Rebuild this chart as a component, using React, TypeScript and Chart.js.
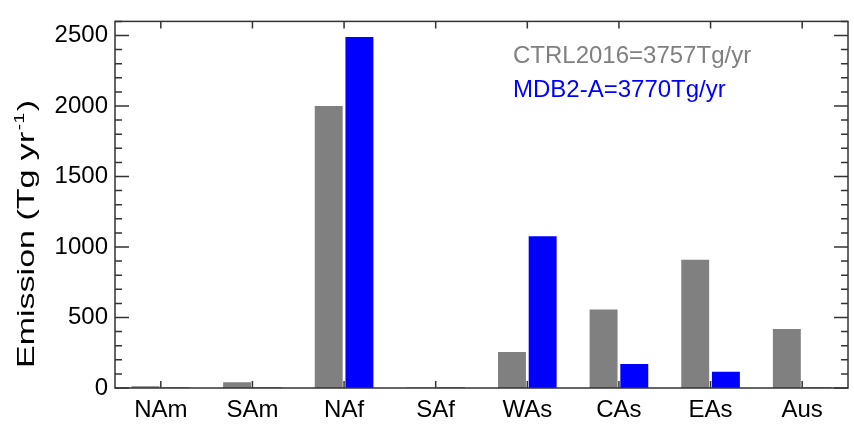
import React, { useEffect, useRef } from "react";
import { Chart, registerables } from "chart.js";

Chart.register(...registerables);

// ---- data ----
const regions = ["NAm", "SAm", "NAf", "SAf", "WAs", "CAs", "EAs", "Aus"];
const ctrl2016 = [12, 40, 2000, 3, 255, 557, 910, 419];
const mdb2a = [4, 3, 2490, 3, 1076, 171, 115, 3];
const yTickValues = [0, 500, 1000, 1500, 2000, 2500];
const yMax = 2600;
const yMinorStep = 100;
const legendLines = [
  { text: "CTRL2016=3757Tg/yr", color: "#808080" },
  { text: "MDB2-A=3770Tg/yr", color: "#0000ff" },
];
const yTitleMain = "Emission (Tg yr";
const yTitleSup = "-1";
const yTitleEnd = ")";

const FONT = '"Liberation Sans", Arial, Helvetica, sans-serif';
const AXIS_COLOR = "#333333";

const framePlugin = {
  id: "idlFrame",
  afterDraw(chart: any) {
    const { ctx, chartArea: a, scales } = chart;
    const y = scales.y;
    const x = scales.x;
    ctx.save();
    ctx.strokeStyle = AXIS_COLOR;
    ctx.lineWidth = 1.5;
    ctx.strokeRect(a.left, a.top, a.right - a.left, a.bottom - a.top);
    ctx.beginPath();
    for (let v = 0; v <= yMax; v += yMinorStep) {
      const py = y.getPixelForValue(v);
      const len = v % 500 === 0 ? 14 : 7;
      ctx.moveTo(a.left, py);
      ctx.lineTo(a.left + len, py);
      ctx.moveTo(a.right, py);
      ctx.lineTo(a.right - len, py);
    }
    regions.forEach((_, i) => {
      const px = x.getPixelForValue(i);
      ctx.moveTo(px, a.bottom);
      ctx.lineTo(px, a.bottom - 7);
      ctx.moveTo(px, a.top);
      ctx.lineTo(px, a.top + 7);
    });
    ctx.stroke();

    // legend text
    ctx.font = `24px ${FONT}`;
    ctx.textAlign = "left";
    ctx.textBaseline = "alphabetic";
    legendLines.forEach((l, i) => {
      ctx.fillStyle = l.color;
      ctx.fillText(l.text, 513, 63 + i * 34);
    });

    // y-axis title (rotated, stretched along the text direction)
    ctx.translate(34, 368);
    ctx.rotate(-Math.PI / 2);
    ctx.fillStyle = "#000";
    ctx.font = `24px ${FONT}`;
    let w = ctx.measureText(yTitleMain).width;
    ctx.font = `14px ${FONT}`;
    const wSup = ctx.measureText(yTitleSup).width;
    ctx.font = `24px ${FONT}`;
    const wEnd = ctx.measureText(yTitleEnd).width;
    const total = w + 1 + wSup + 1 + wEnd;
    ctx.scale(268 / total, 1);
    ctx.fillText(yTitleMain, 0, 0);
    ctx.font = `14px ${FONT}`;
    ctx.fillText(yTitleSup, w + 1, -10);
    ctx.font = `24px ${FONT}`;
    ctx.fillText(yTitleEnd, w + 2 + wSup, 0);
    ctx.restore();
  },
};

export default function App() {
  const ref = useRef<HTMLCanvasElement | null>(null);
  useEffect(() => {
    if (!ref.current) return;
    const chart = new Chart(ref.current, {
      type: "bar",
      data: {
        labels: regions,
        datasets: [
          {
            label: "CTRL2016",
            data: ctrl2016,
            backgroundColor: "#808080",
            categoryPercentage: 0.67,
            barPercentage: 0.91,
          },
          {
            label: "MDB2-A",
            data: mdb2a,
            backgroundColor: "#0000ff",
            categoryPercentage: 0.67,
            barPercentage: 0.91,
          },
        ],
      },
      options: {
        animation: false,
        responsive: false,
        layout: { padding: { top: 10, right: 6, left: 0, bottom: 0 } },
        plugins: {
          legend: { display: false },
          tooltip: { enabled: false },
          title: { display: false },
        },
        scales: {
          x: {
            type: "category",
            offset: true,
            grid: { display: false, drawTicks: false },
            border: { display: false },
            ticks: {
              color: "#000",
              font: { size: 24, family: FONT },
              padding: 8,
              maxRotation: 0,
              autoSkip: false,
            },
            afterFit: (s: any) => {
              s.height = 37;
            },
          },
          y: {
            type: "linear",
            min: 0,
            max: yMax,
            grid: { display: false, drawTicks: false },
            border: { display: false },
            ticks: {
              color: "#000",
              font: { size: 24, family: FONT },
              padding: 7,
              callback: (v: any) => String(v),
            },
            afterBuildTicks: (s: any) => {
              s.ticks = yTickValues.map((v) => ({ value: v }));
            },
            afterFit: (s: any) => {
              s.width = 115;
            },
          },
        },
      },
      plugins: [framePlugin],
    });
    return () => chart.destroy();
  }, []);
  return (
    <canvas
      ref={ref}
      width={854}
      height={425}
      style={{ position: "absolute", left: 0, top: 0, display: "block" }}
    />
  );
}
